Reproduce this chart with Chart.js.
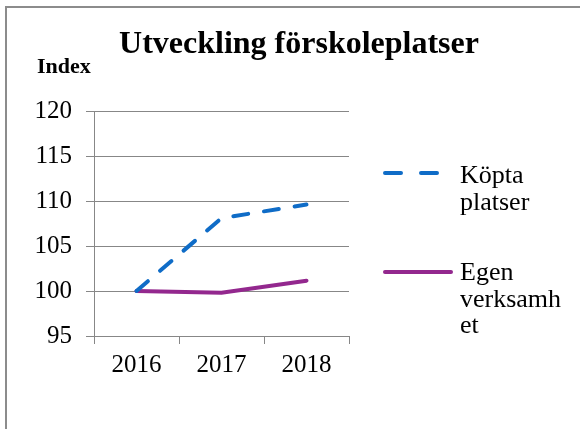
<!DOCTYPE html>
<html>
<head>
<meta charset="utf-8">
<script src="https://cdn.jsdelivr.net/npm/chart.js@4"></script>
<style>
  html, body { margin: 0; padding: 0; background: #fff; overflow: hidden; }
  #frame {
    position: absolute; left: 5px; top: 6px;
    width: 700px; height: 600px;
    border: 2px solid #8c8c8c;
  }
  #chart { position: absolute; left: 0; top: 0; }
</style>
</head>
<body>
<div id="frame"></div>
<canvas id="chart" width="580" height="429"></canvas>
<script>
// --- data ---
const years = ['2016', '2017', '2018'];
const koptaPlatser = [100, 108.1, 109.6];
const egenVerksamhet = [100, 99.8, 101.15];
const yTicks = [95, 100, 105, 110, 115, 120];
const seriesNames = ['Köpta platser', 'Egen verksamhet'];
const legendLines = [['Köpta', 'platser'], ['Egen', 'verksamh', 'et']];
const chartTitle = 'Utveckling förskoleplatser';
const axisTitle = 'Index';

const BLUE = '#0f6cc7';
const PURPLE = '#93288e';
const GRID = '#878787';
const SERIF = '"Liberation Serif", "Times New Roman", serif';

// title, axis caption and the wrapped legend on the right
const textPlugin = {
  id: 'texts',
  afterDraw(chart) {
    const ctx = chart.ctx;
    ctx.save();
    ctx.fillStyle = '#000';
    ctx.textBaseline = 'alphabetic';

    ctx.font = 'bold 32px ' + SERIF;
    ctx.textAlign = 'center';
    ctx.fillText(chartTitle, 299, 53);

    ctx.font = 'bold 22px ' + SERIF;
    ctx.textAlign = 'left';
    ctx.fillText(axisTitle, 37, 73);

    // legend
    const items = [
      { color: BLUE, dash: [16, 20], x1: 385, x2: 439, y: 173, textY: 183 },
      { color: PURPLE, dash: [], x1: 385, x2: 451, y: 272, textY: 280 }
    ];
    items.forEach((it, i) => {
      ctx.beginPath();
      ctx.strokeStyle = it.color;
      ctx.lineWidth = 4;
      ctx.lineCap = 'round';
      ctx.setLineDash(it.dash);
      ctx.moveTo(it.x1, it.y);
      ctx.lineTo(it.x2, it.y);
      ctx.stroke();
      ctx.setLineDash([]);
      ctx.font = '26px ' + SERIF;
      ctx.fillStyle = '#000';
      legendLines[i].forEach((line, j) => {
        ctx.fillText(line, 460, it.textY + j * 26.5);
      });
    });
    ctx.restore();
  }
};

function drawChart() {
  new Chart(document.getElementById('chart'), {
    type: 'line',
    data: {
      labels: years,
      datasets: [
        {
          label: seriesNames[0],
          data: koptaPlatser,
          borderColor: BLUE,
          borderWidth: 4,
          borderDash: [15, 16],
          borderCapStyle: 'round',
          pointRadius: 0,
          tension: 0,
          fill: false
        },
        {
          label: seriesNames[1],
          data: egenVerksamhet,
          borderColor: PURPLE,
          borderWidth: 4,
          borderCapStyle: 'round',
          pointRadius: 0,
          tension: 0,
          fill: false
        }
      ]
    },
    options: {
      responsive: false,
      animation: false,
      events: [],
      layout: { padding: { top: 111, right: 231, bottom: 0, left: 0 } },
      plugins: {
        legend: { display: false },
        title: { display: false },
        tooltip: { enabled: false }
      },
      scales: {
        x: {
          offset: true,
          afterFit: (s) => { s.height = 93; },
          grid: {
            offset: true,
            drawOnChartArea: false,
            color: GRID,
            tickLength: 8
          },
          border: { color: GRID, width: 1 },
          ticks: {
            color: '#000',
            padding: 6,
            maxRotation: 0,
            font: { family: SERIF, size: 25 }
          }
        },
        y: {
          min: 95,
          max: 120,
          afterFit: (s) => { s.width = 94; },
          afterBuildTicks: (s) => { s.ticks = yTicks.map(v => ({ value: v })); },
          grid: {
            color: GRID,
            tickLength: 8
          },
          border: { color: GRID, width: 1 },
          ticks: {
            color: '#000',
            padding: 14,
            font: { family: SERIF, size: 25 }
          }
        }
      }
    },
    plugins: [textPlugin]
  });
}

// make sure the serif faces are ready before the canvas is painted
Promise.all([
  document.fonts.load('25px "Liberation Serif"'),
  document.fonts.load('bold 32px "Liberation Serif"')
]).then(drawChart, drawChart);
</script>
</body>
</html>
